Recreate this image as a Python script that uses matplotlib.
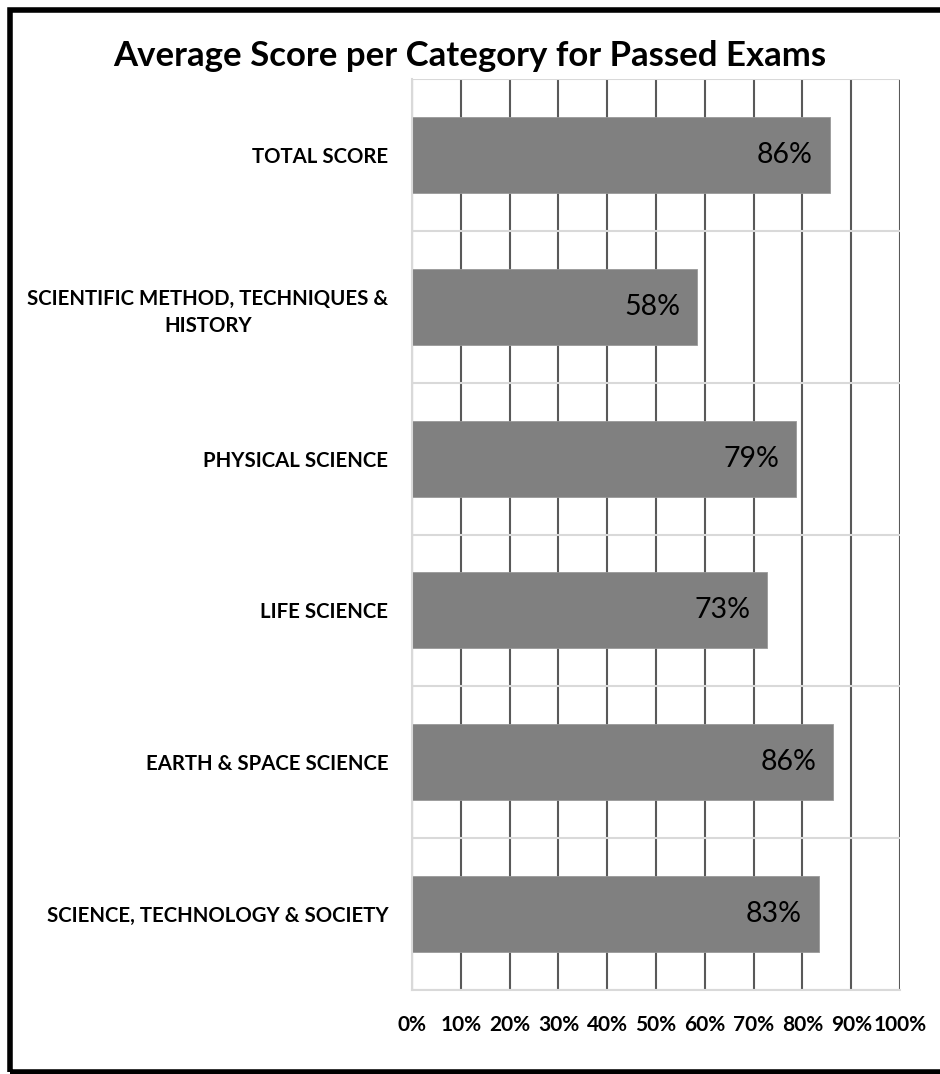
import matplotlib
matplotlib.use('Agg')
from matplotlib import pyplot as plt
from matplotlib.patches import Rectangle
import numpy as np

categories = ['TOTAL SCORE',
              'SCIENTIFIC METHOD, TECHNIQUES &\nHISTORY',
              'PHYSICAL SCIENCE',
              'LIFE SCIENCE',
              'EARTH & SPACE SCIENCE',
              'SCIENCE, TECHNOLOGY & SOCIETY']
scores = [85.6, 58.4, 78.7, 72.8, 86.3, 83.4]
ticks = [0, 10, 20, 30, 40, 50, 60, 70, 80, 90, 100]
tick_labels = ['0%', '10%', '20%', '30%', '40%', '50%', '60%', '70%', '80%', '90%', '100%']

plt.rcParams['font.family'] = ['Lato', 'DejaVu Sans']

fig = plt.figure(figsize=(9.4, 10.74), dpi=100)
ax = fig.add_axes([412/940, 1 - 990/1074, 488/940, 911/1074])

y = np.arange(len(categories))
bars = ax.barh(y, scores, height=0.5, color='#808080', edgecolor='#999999', linewidth=0.6, zorder=2)

for bar, val in zip(bars, scores):
    ax.annotate(f'{val:.0f}%', (bar.get_width(), bar.get_y() + bar.get_height() / 2),
                xytext=(-17, 0), textcoords='offset pixels',
                ha='right', va='center', fontsize=20.5, color='black', zorder=3)

ax.set_xlim(0, 100)
ax.set_ylim(len(categories) - 0.5, -0.5)
ax.set_xticks(ticks)
ax.set_xticklabels(tick_labels, fontsize=15, fontweight='bold')
ax.set_yticks(y)
ax.set_yticklabels(categories, fontsize=14.7, fontweight='bold')
for lbl in ax.get_yticklabels():
    lbl.set_multialignment('center')
    lbl.set_linespacing(1.45)

# separators between categories and vertical grid
ax.set_yticks(np.arange(-0.5, len(categories)), minor=True)
ax.grid(axis='y', which='minor', color='#d9d9d9', linewidth=1.5)
ax.grid(axis='x', which='major', color='#595959', linewidth=1.5)
ax.set_axisbelow(True)
ax.tick_params(axis='both', which='both', length=0)
ax.tick_params(axis='x', pad=18)
ax.tick_params(axis='y', pad=17)

for side in ['top', 'right']:
    ax.spines[side].set_visible(False)
for side in ['left', 'bottom']:
    ax.spines[side].set_color('#d9d9d9')
    ax.spines[side].set_linewidth(1.5)
    ax.spines[side].set_zorder(2.5)

fig.text(470/940, 1 - 56/1074, 'Average Score per Category for Passed Exams',
         ha='center', va='center', fontsize=25, fontweight='bold')

# outer border of the chart
fig.patches.append(Rectangle((10/940, 2/1074), 1.0, 1 - 12/1074, transform=fig.transFigure,
                             fill=False, edgecolor='black', linewidth=4))

fig.savefig('out.png', dpi=100, facecolor='white')
